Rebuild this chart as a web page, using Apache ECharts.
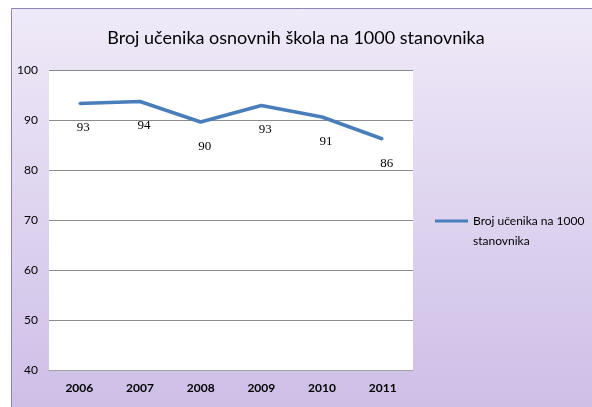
<!DOCTYPE html>
<html>
<head>
<meta charset="utf-8">
<script src="https://cdn.jsdelivr.net/npm/echarts@6/dist/echarts.min.js"></script>
<style>
    html, body { margin: 0; padding: 0; background: #fff; }
    #main { width: 592px; height: 407px; }
</style>
</head>
<body>
<div id="main"></div>
<script>
let years = ['2006', '2007', '2008', '2009', '2010', '2011'];
let ucenici = [93.3, 93.7, 89.6, 92.9, 90.6, 86.2];
let seriesName = 'Broj učenika na 1000 stanovnika';

let myChart = echarts.init(document.getElementById('main'));

let option = {
    backgroundColor: '#fff',
    animation: false,
    graphic: [
        {
            type: 'rect',
            z: -10,
            shape: { x: 11.5, y: 8.5, width: 600, height: 420 },
            style: {
                fill: new echarts.graphic.LinearGradient(0, 0, 0, 1, [
                    { offset: 0, color: '#EFEAF8' },
                    { offset: 1, color: '#CCBCE6' }
                ]),
                stroke: '#8E80B8',
                lineWidth: 1
            }
        }
    ],
    title: {
        text: 'Broj učenika osnovnih škola na 1000 stanovnika',
        left: 'center',
        top: 24,
        textStyle: {
            fontFamily: 'Lato',
            fontWeight: 'normal',
            fontSize: 18,
            color: '#000'
        }
    },
    legend: {
        orient: 'vertical',
        left: 430,
        top: 190,
        itemWidth: 33,
        itemHeight: 3,
        icon: 'rect',
        formatter: function () {
            return '{a|}\n{a|Broj učenika na 1000}\n{a|stanovnika}';
        },
        textStyle: {
            rich: {
                a: {
                    fontFamily: 'Lato',
                    fontSize: 12,
                    color: '#000',
                    lineHeight: 20
                }
            }
        },
        data: [seriesName]
    },
    grid: {
        left: 49,
        top: 70,
        width: 364,
        height: 300,
        show: true,
        backgroundColor: '#fff',
        borderWidth: 0
    },
    xAxis: {
        type: 'category',
        data: years,
        axisLine: { lineStyle: { color: '#A0A0A0', width: 1 } },
        axisTick: { show: false },
        axisLabel: {
            margin: 12,
            fontFamily: 'Lato',
            fontWeight: 'bold',
            fontSize: 12,
            color: '#000'
        }
    },
    yAxis: {
        type: 'value',
        min: 40,
        max: 100,
        interval: 10,
        axisLine: { show: false },
        axisTick: { show: false },
        splitLine: { lineStyle: { color: '#8C8C8C', width: 1 } },
        axisLabel: {
            margin: 11,
            fontFamily: 'Lato',
            fontSize: 12,
            color: '#000'
        }
    },
    series: [
        {
            name: seriesName,
            type: 'line',
            data: ucenici,
            symbol: 'circle',
            symbolSize: 2,
            lineStyle: { color: '#4A7EBB', width: 3.5 },
            itemStyle: { color: '#4A7EBB' },
            label: {
                show: true,
                position: 'bottom',
                distance: 17,
                offset: [4, 0],
                formatter: function (p) {
                    return String(Math.round(p.value));
                },
                fontFamily: 'Liberation Serif',
                fontSize: 13,
                color: '#000'
            }
        }
    ]
};

myChart.setOption(option);
</script>
</body>
</html>
